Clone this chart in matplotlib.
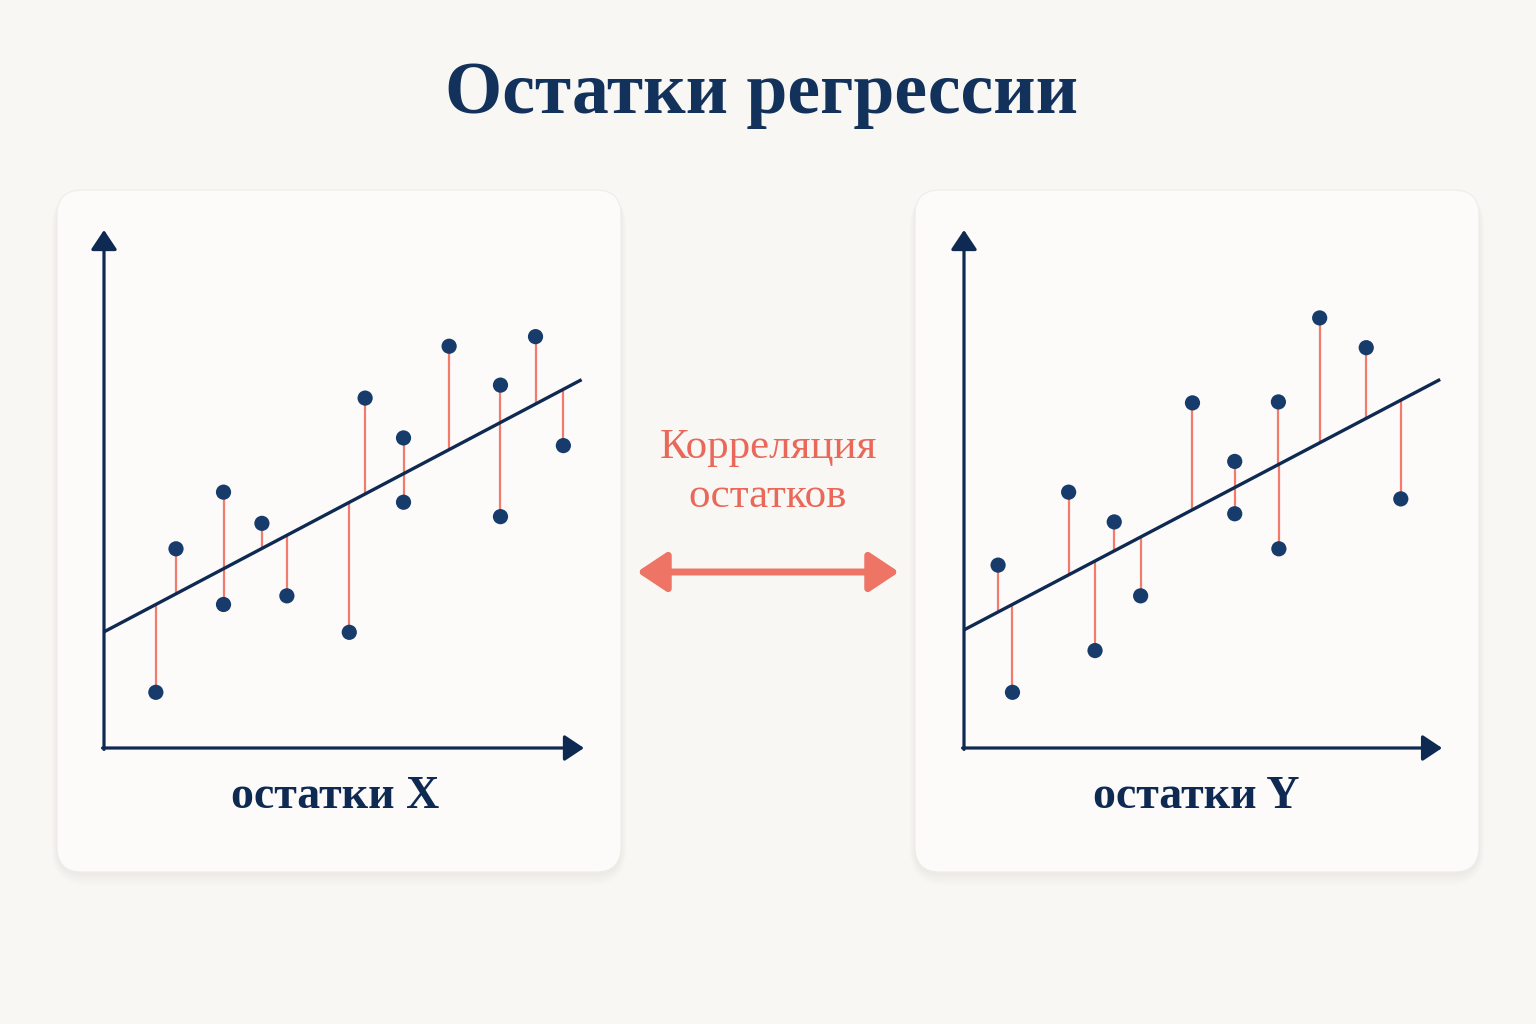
import matplotlib
matplotlib.use("Agg")
import matplotlib.pyplot as plt
import numpy as np
from matplotlib.patches import FancyBboxPatch, FancyArrowPatch

# ---------------- data ----------------
title = "Остатки регрессии"
label_left = "остатки X"
label_right = "остатки Y"
middle_text = "Корреляция\nостатков"

left_x = [1.08, 1.50, 2.49, 2.49, 3.29, 3.81, 5.11, 5.44, 6.24, 6.24, 7.19, 8.26, 8.26, 8.99, 9.57]
left_y = [1.16, 4.15, 5.33, 2.99, 4.68, 3.17, 2.41, 7.29, 6.46, 5.12, 8.37, 7.56, 4.82, 8.57, 6.30]
left_intercept = 2.42
left_slope = 0.528
left_line_end = 9.95

right_x = [0.71, 1.01, 2.18, 2.73, 3.13, 3.68, 4.76, 5.64, 5.64, 6.55, 6.56, 7.41, 8.38, 9.10]
right_y = [3.81, 1.16, 5.33, 2.03, 4.71, 3.17, 7.19, 5.97, 4.88, 7.21, 4.15, 8.96, 8.34, 5.19]
right_intercept = 2.46
right_slope = 0.526
right_line_end = 9.92

# ---------------- style ----------------
BG = "#F9F7F4"
CARD = "#FCFBFA"
NAVY = "#0F2A52"
DOT = "#173C6B"
SALMON = "#F27B6C"
SALMON_TXT = "#E9685A"
SERIF = ["Liberation Serif", "DejaVu Serif"]

W, H = 1536, 1024
fig = plt.figure(figsize=(W / 100, H / 100), dpi=100)
fig.patch.set_facecolor(BG)

bg = fig.add_axes([0, 0, 1, 1])
bg.set_xlim(0, W)
bg.set_ylim(H, 0)
bg.axis("off")

def card(x0, y0, x1, y1):
    for i, a in enumerate([0.018, 0.016, 0.014, 0.012, 0.010, 0.008]):
        s = 2 + i * 2
        bg.add_patch(FancyBboxPatch((x0 - s * 0.5, y0 + 2), (x1 - x0) + s, (y1 - y0) + s,
                                    boxstyle="round,pad=0,rounding_size=%d" % (25 + s),
                                    facecolor="#8a7f75", edgecolor="none", alpha=a))
    bg.add_patch(FancyBboxPatch((x0, y0), x1 - x0, y1 - y0,
                                boxstyle="round,pad=0,rounding_size=25",
                                facecolor=CARD, edgecolor="#EFECE8", linewidth=0.8))

card(57, 190, 621, 872)
card(915, 190, 1479, 872)

bg.text(762, 95, title, ha="center", va="center", fontsize=53, fontweight="bold",
        family=SERIF, color="#13325B")

bg.text(768, 472, middle_text, ha="center", va="center", fontsize=31,
        family=SERIF, color=SALMON_TXT, linespacing=1.35)

bg.add_patch(FancyArrowPatch((637, 572), (899, 572), arrowstyle="<|-|>,head_length=18,head_width=12",
                             mutation_scale=1, color="#EE7565", linewidth=5, shrinkA=0, shrinkB=0,
                             joinstyle="round"))

bg.text(335, 797, label_left, ha="center", va="center", fontsize=33, fontweight="bold",
        family=SERIF, color=NAVY)
bg.text(1196, 797, label_right, ha="center", va="center", fontsize=33, fontweight="bold",
        family=SERIF, color=NAVY)

UNIT = 48.0

def panel(px0, xs, ys, b0, b1, xend, xaxis_end):
    left = (px0 - 20) / W
    bottom = (H - 768) / H
    width = 520 / W
    height = 558 / H
    ax = fig.add_axes([left, bottom, width, height])
    ax.set_xlim(-20 / UNIT, 500 / UNIT)
    ax.set_ylim(-20 / UNIT, 538 / UNIT)
    ax.axis("off")
    ax.patch.set_alpha(0)
    ytop = 518 / UNIT
    style = "-|>,head_length=0.6,head_width=0.4"
    ax.annotate("", xy=(0, ytop), xytext=(0, -0.03),
                arrowprops=dict(arrowstyle=style, color=NAVY,
                                lw=2.3, shrinkA=0, shrinkB=0, mutation_scale=20))
    ax.annotate("", xy=(xaxis_end, 0), xytext=(-0.03, 0),
                arrowprops=dict(arrowstyle=style, color=NAVY,
                                lw=2.3, shrinkA=0, shrinkB=0, mutation_scale=20))
    xs = np.asarray(xs)
    ys = np.asarray(ys)
    fit = b0 + b1 * xs
    ax.vlines(xs, fit, ys, colors=SALMON, linewidth=1.6, zorder=2)
    ax.plot([0, xend], [b0, b0 + b1 * xend], color=NAVY, linewidth=2.4, zorder=3,
            solid_capstyle="butt")
    ax.scatter(xs, ys, s=120, color=DOT, zorder=4, edgecolors="none")
    return ax

panel(104, left_x, left_y, left_intercept, left_slope, left_line_end, 10.0)
panel(964, right_x, right_y, right_intercept, right_slope, right_line_end, 9.96)

fig.savefig("out.png", dpi=100, facecolor=BG)
